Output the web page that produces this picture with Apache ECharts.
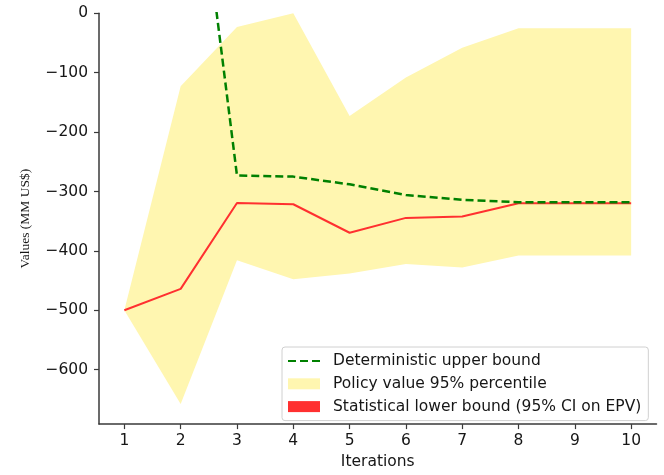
<!DOCTYPE html>
<html><head><meta charset="utf-8">
<script src="https://cdn.jsdelivr.net/npm/echarts@6/dist/echarts.min.js"></script>
<style>html,body{margin:0;padding:0;background:#fff}#c{width:664px;height:475px}</style>
</head><body><div id="c"></div>
<script>
const iterations = [1, 2, 3, 4, 5, 6, 7, 8, 9, 10];
const upperBound = [null, 485, -273, -275, -288, -306, -314, -318, -318, -318];
const bandLow = [-500, -658, -416, -448, -438, -422, -428, -408, -408, -408];
const bandHigh = [-500, -123, -23, 0, -173, -108, -58, -25, -25, -25];
const lowerBound = [-500, -464, -319.5, -321.5, -369.5, -344.5, -342, -320, -320, -320];
const yTicks = [-600, -500, -400, -300, -200, -100, 0];
const xTicks = [1, 2, 3, 4, 5, 6, 7, 8, 9, 10];

const fmtMinus = v => String(v).replace('-', '\u2212');
const pair = arr => iterations.map((x, i) => [x, arr[i]]);
const bandData = iterations.map((x, i) => [x, bandLow[i], bandHigh[i]]);

const chart = echarts.init(document.getElementById('c'), null, {renderer: 'canvas'});
const font = 'DejaVu Sans';
const fs = 15.5;
const txt = '#161616';
const spine = '#3a3a3a';
const yellow = '#fff6b0';
const red = '#ff3030';
chart.setOption({
  animation: false,
  backgroundColor: '#fff',
  grid: {left: 99, right: 7.5, top: 13.3, bottom: 46.7, containLabel: false},
  xAxis: {
    type: 'value', min: 0.55, max: 10.45,
    name: 'Iterations', nameLocation: 'middle', nameGap: 29,
    nameTextStyle: {fontFamily: font, fontSize: fs, color: txt},
    axisLine: {show: true, onZero: false, lineStyle: {color: spine, width: 1.5}},
    axisTick: {show: true, length: 5, customValues: xTicks, lineStyle: {color: spine, width: 1.2}},
    axisLabel: {customValues: xTicks, fontFamily: font, fontSize: fs, color: txt, margin: 9},
    splitLine: {show: false}
  },
  yAxis: {
    type: 'value', min: -691.7, max: 0,
    name: 'Values (MM US$)', nameLocation: 'middle', nameGap: 67,
    nameTextStyle: {fontFamily: 'Liberation Serif', fontSize: 13.5, color: txt},
    axisLine: {show: true, onZero: false, lineStyle: {color: spine, width: 1.5}},
    axisTick: {show: true, length: 5, customValues: yTicks, lineStyle: {color: spine, width: 1.2}},
    axisLabel: {customValues: yTicks, fontFamily: font, fontSize: fs, color: txt, margin: 11, formatter: fmtMinus},
    splitLine: {show: false}
  },
  legend: {
    orient: 'vertical', left: 282, top: 347,
    padding: [6, 7, 6, 5], itemGap: 6.8, itemWidth: 32, itemHeight: 11,
    backgroundColor: '#fff', borderColor: '#d0d0d0', borderWidth: 1, borderRadius: 3,
    textStyle: {fontFamily: font, fontSize: fs, color: txt, padding: [0, 0, 0, 8]},
    data: [
      {name: 'Deterministic upper bound', itemStyle: {opacity: 0}},
      {name: 'Policy value 95% percentile', icon: 'rect', itemStyle: {color: yellow}},
      {name: 'Statistical lower bound (95% CI on EPV)', icon: 'rect', itemStyle: {color: red}}
    ]
  },
  series: [
    {
      name: 'Policy value 95% percentile', type: 'custom', data: bandData,
      itemStyle: {color: yellow}, z: 1, silent: true,
      encode: {x: 0, y: [1, 2]},
      renderItem: function (params, api) {
        if (params.dataIndex !== 0) return null;
        const pts = [];
        for (let i = 0; i < bandData.length; i++) pts.push(api.coord([bandData[i][0], bandData[i][2]]));
        for (let i = bandData.length - 1; i >= 0; i--) pts.push(api.coord([bandData[i][0], bandData[i][1]]));
        return {type: 'polygon', shape: {points: pts}, style: {fill: yellow}};
      }
    },
    {
      name: 'Statistical lower bound (95% CI on EPV)', type: 'line', data: pair(lowerBound),
      symbol: 'none', itemStyle: {color: red}, lineStyle: {color: red, width: 2}, z: 3
    },
    {
      name: 'Deterministic upper bound', type: 'line', data: pair(upperBound), clip: true,
      symbol: 'none', itemStyle: {color: '#008000'},
      lineStyle: {color: '#008000', width: 2.5, type: [8, 4]}, z: 4
    }
  ]
});
</script></body></html>
